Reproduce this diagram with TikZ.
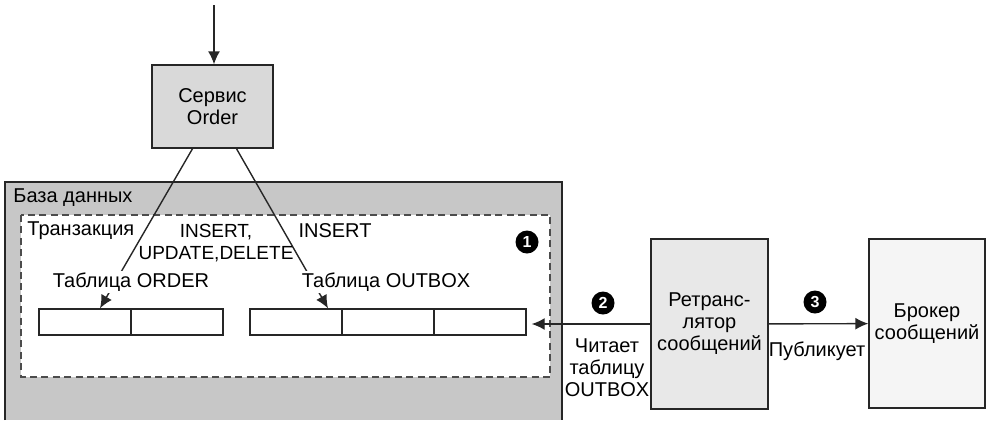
\documentclass[tikz,border=0pt]{standalone}
\usepackage{fontspec}
\setmainfont{Liberation Sans}
\usetikzlibrary{arrows.meta,positioning}

\tikzset{
  box/.style={draw=black!85, line width=0.7pt, align=center, inner sep=0pt},
  cell/.style={draw=black!85, line width=0.7pt, fill=white, inner sep=0pt,
               minimum width=46pt, minimum height=13pt},
  num/.style={circle, fill=black, text=white, inner sep=0pt, minimum size=11.5pt,
              font=\bfseries\footnotesize},
  arr/.style={-{Latex[length=6.5pt,width=6pt]}, line width=0.7pt, black!85},
  lbl/.style={inner sep=1pt, align=center},
}

\begin{document}
\begin{tikzpicture}[x=0.5pt, y=-0.5pt, font=\fontsize{10}{11}\selectfont]
    \useasboundingbox (0,0) rectangle (989,420);

    % Database and the transaction inside it
    \fill[black!22] (5,182) rectangle (562,420);
    \draw[black!85, line width=0.7pt] (5,420) |- (562,182) -- (562,420);
    \node[lbl, anchor=west] (dblabel) at (11,198) {База данных};
    \draw[black!70, line width=0.8pt, dash pattern=on 3.5pt off 2.2pt, fill=white]
        (21,215) rectangle (550,377);

    % Tables
    \foreach \i in {1,2} {
        \node[cell] (ord\i) at ({39+92*\i-46},322) {};
    }
    \foreach \i in {1,2,3} {
        \node[cell] (out\i) at ({250+92*\i-46},322) {};
    }

    % Order service
    \node[box, fill=black!15, minimum width=60.5pt, minimum height=41.5pt]
        (svc) at (212.5,106.5) {Сервис\\Order};
    \coordinate (src) at (214,5);
    \draw[arr] (src) -- (src |- svc.north);

    \draw[arr] ([xshift=-10pt]svc.south) -- ([xshift=7.5pt]ord1.north);
    \draw[arr] ([xshift=12pt]svc.south) -- ([xshift=16pt]out1.north);

    \node[lbl, anchor=west] (trans) at (25,231) {Транзакция};
    \node[lbl, font=\fontsize{9.5}{11}\selectfont] (ops) at (216,243.5) {INSERT,\\UPDATE,DELETE};
    \node[lbl] (ins) at (335,231) {INSERT};
    \node[num] (n1) at (527,242) {1};
    \node[lbl, fill=white] (ordlabel) at (131,282) {Таблица ORDER};
    \node[lbl, fill=white] (outlabel) at (386,282) {Таблица OUTBOX};

    % Relay and broker
    \node[box, fill=black!9, minimum width=58.5pt, minimum height=85pt]
        (relay) at (709.5,324) {Ретранс-\\лятор\\сообщений};
    \node[box, fill=black!4, minimum width=58pt, minimum height=84.5pt]
        (broker) at (927,323.5) {Брокер\\сообщений};

    \draw[arr, shorten >=2.5pt] (relay.west) -- (relay.west -| out3.east);
    \draw[arr] (relay) -- (broker);

    \node[num] (n2) at (603,303) {2};
    \node[lbl] (read) at (607,368) {Читает\\таблицу\\OUTBOX};
    \node[num] (n3) at (815,302) {3};
    \node[lbl] (pub) at (817,351) {Публикует};
\end{tikzpicture}
\end{document}
